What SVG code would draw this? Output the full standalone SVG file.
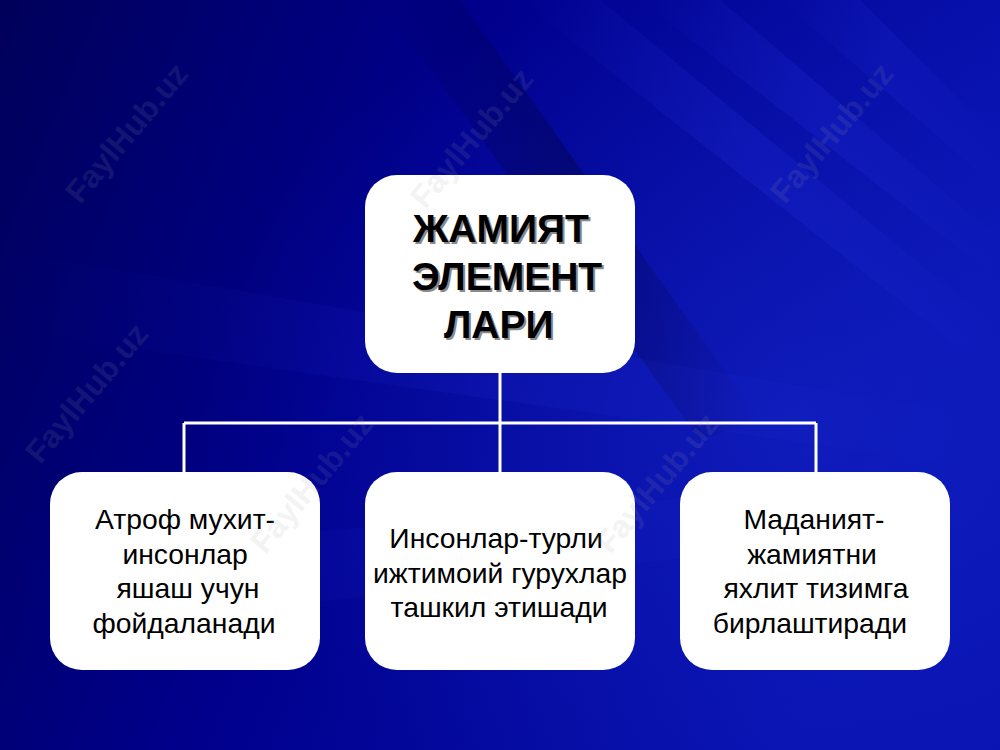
<svg xmlns="http://www.w3.org/2000/svg" width="1000" height="750" viewBox="0 0 1000 750">
<style>
.box{fill:#ffffff;}
.head{font-family:"Liberation Sans",Arial,sans-serif;font-weight:bold;font-size:39px;fill:#000;}
.shadow{font-family:"Liberation Sans",Arial,sans-serif;font-weight:bold;font-size:39px;fill:#8a8a8a;}
.body{font-family:"Liberation Sans",Arial,sans-serif;font-size:28.3px;fill:#000;text-anchor:middle;}
.wm{font-family:"Liberation Sans",Arial,sans-serif;font-weight:bold;font-size:32px;fill:#a0a0a0;opacity:0.12;text-anchor:middle;}
.conn{stroke:#ffffff;stroke-width:3;fill:none;}
</style>
<defs>
<linearGradient id="bg" x1="0" y1="0" x2="1" y2="0.3">
<stop offset="0" stop-color="#00005a"/>
<stop offset="0.45" stop-color="#00008c"/>
<stop offset="1" stop-color="#0812b0"/>
</linearGradient>
<radialGradient id="glow" cx="0.8" cy="0.55" r="0.6">
<stop offset="0" stop-color="#1a2cd0" stop-opacity="0.45"/>
<stop offset="1" stop-color="#1a2cd0" stop-opacity="0"/>
</radialGradient>
<linearGradient id="ray" x1="0" y1="0" x2="1" y2="0">
<stop offset="0" stop-color="#3040ff" stop-opacity="0"/>
<stop offset="0.5" stop-color="#3040ff" stop-opacity="0.16"/>
<stop offset="1" stop-color="#3040ff" stop-opacity="0"/>
</linearGradient>
<linearGradient id="dray" x1="0" y1="0" x2="1" y2="0">
<stop offset="0" stop-color="#000030" stop-opacity="0"/>
<stop offset="0.5" stop-color="#000030" stop-opacity="0.35"/>
<stop offset="1" stop-color="#000030" stop-opacity="0"/>
</linearGradient>
</defs>
<g id="background">
<rect x="0" y="0" width="1000" height="750" fill="url(#bg)"/>
<rect x="0" y="0" width="1000" height="750" fill="url(#glow)"/>
<polygon points="380,0 460,0 760,420 700,440" fill="url(#dray)"/>
<polygon points="520,0 600,0 1000,330 1000,380" fill="url(#ray)"/>
<polygon points="640,0 720,0 1000,240 1000,280" fill="url(#ray)"/>
<polygon points="0,250 0,330 1000,470 1000,420" fill="url(#ray)" opacity="0.6"/>
<polygon points="0,560 0,640 1000,520 1000,470" fill="url(#ray)" opacity="0.5"/>
<polygon points="780,0 860,0 1000,140 1000,190" fill="url(#ray)" opacity="0.7"/>
</g>
<g id="connectors">
<path class="conn" d="M500,373 V423 M184,423 H816 M184,423 V472 M500,423 V472 M816,423 V472"/>
</g>
<g id="node-root">
<rect class="box" x="365" y="175" width="270" height="198" rx="32"/>
<text class="shadow" x="415" y="244">ЖАМИЯТ</text>
<text class="shadow" x="414" y="292">ЭЛЕМЕНТ</text>
<text class="shadow" x="446" y="340">ЛАРИ</text>
<text class="head" x="413" y="242">ЖАМИЯТ</text>
<text class="head" x="412" y="290">ЭЛЕМЕНТ</text>
<text class="head" x="444" y="338">ЛАРИ</text>
</g>
<g id="node-left">
<rect class="box" x="50" y="472" width="270" height="198" rx="32"/>
<text class="body" x="185" y="529">Атроф мухит-</text>
<text class="body" x="185" y="563.5">инсонлар</text>
<text class="body" x="188" y="598">яшаш учун</text>
<text class="body" x="184" y="632.5">фойдаланади</text>
</g>
<g id="node-middle">
<rect class="box" x="365" y="472" width="270" height="198" rx="32"/>
<text class="body" x="496" y="548">Инсонлар-турли</text>
<text class="body" x="500" y="582.5">ижтимоий гурухлар</text>
<text class="body" x="499" y="617">ташкил этишади</text>
</g>
<g id="node-right">
<rect class="box" x="680" y="472" width="270" height="198" rx="32"/>
<text class="body" x="814" y="529">Маданият-</text>
<text class="body" x="812" y="563.5">жамиятни</text>
<text class="body" x="816" y="598">яхлит тизимга</text>
<text class="body" x="810" y="632.5">бирлаштиради</text>
</g>
<g id="watermarks">
<text class="wm" transform="translate(135,140) rotate(-50)">FaylHub.uz</text>
<text class="wm" transform="translate(480,145) rotate(-50)">FaylHub.uz</text>
<text class="wm" transform="translate(840,140) rotate(-50)">FaylHub.uz</text>
<text class="wm" transform="translate(95,400) rotate(-50)">FaylHub.uz</text>
<text class="wm" transform="translate(320,490) rotate(-50)">FaylHub.uz</text>
<text class="wm" transform="translate(665,490) rotate(-50)">FaylHub.uz</text>
</g>
</svg>
